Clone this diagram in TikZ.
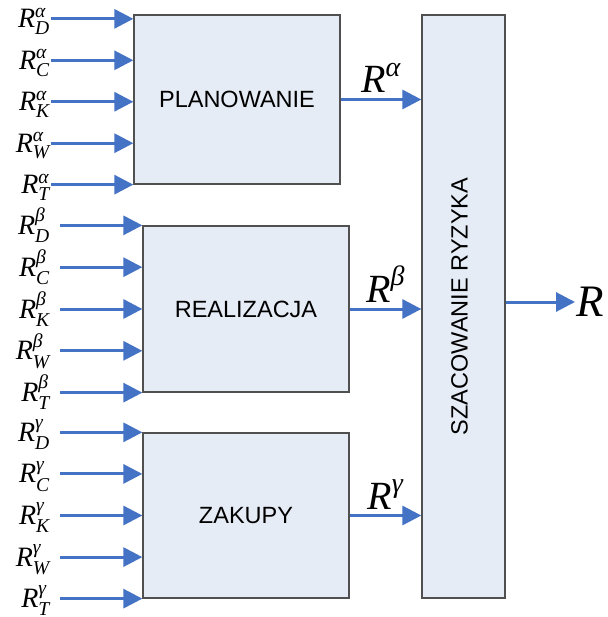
\documentclass[tikz,border=0pt]{standalone}
\usepackage{amsmath}
\usepackage{fontspec}
\setmainfont{Liberation Serif}
\newfontfamily\arialfont{Liberation Sans}
\usepackage{tikz}
\usetikzlibrary{arrows.meta, calc}
\definecolor{bfill}{HTML}{E6ECF6}
\definecolor{bline}{HTML}{505050}
\definecolor{ablue}{HTML}{4472C4}
\newcommand{\rlab}[2]{$\textit{R}^{\textit{#1}}_{\textit{#2}}$}
\tikzset{
  blok/.style={draw=bline, fill=bfill, line width=1.3pt, minimum width=206pt,
               font=\arialfont\fontsize{23.5}{28}\selectfont, inner sep=0pt},
  arr/.style={-{Triangle[length=19pt, width=19pt]}, line width=3pt, ablue},
  inlbl/.style={anchor=base east, inner sep=0pt, font=\fontsize{28}{32}\selectfont},
  outlbl/.style={above=5pt, inner sep=0pt, text=black, font=\fontsize{40}{44}\selectfont},
}

\begin{document}
\begin{tikzpicture}[x=1pt, y=-1pt]
  \useasboundingbox (0,0) rectangle (607,617);

  \node[blok, minimum height=169pt] (plan) at (237,99.5) {PLANOWANIE};
  \node[blok, minimum height=166pt] (real) at (246,309) {REALIZACJA};
  \node[blok, minimum height=165pt] (zak) at (246,515.5) {ZAKUPY};
  \node[blok, minimum width=83pt, minimum height=583pt] (szac) at (463.5,306.5) {};
  \node[rotate=90, font=\arialfont\fontsize{23.5}{28}\selectfont] (szacT)
    at ($(szac.center)+(-4,0)$) {SZACOWANIE RYZYKA};

  % wejscia
  \foreach \b/\g/\gap/\off in {plan/α/1pt/4.5, real/β/10pt/0, zak/γ/10pt/0} {
    \coordinate (\b-top) at ($(\b.north west)+(0,\off)$);
    \foreach \s [count=\i from 0] in {D,C,K,W,T} {
      \coordinate (\b-\s) at ($(\b-top)!\i/4!(\b.south west)$);
      \node[inlbl] (\b-l\s) at ($(\b-\s -| 50,0)+(0,9)$) {\rlab{\g}{\s}};
      \draw[arr, shorten <=\gap] (\b-l\s.east |- \b-\s) -- (\b-\s);
    }
  }

  % wyjscia
  \foreach \b/\g in {plan/α, real/β, zak/γ} {
    \draw[arr] (\b.east) -- (\b.east -| szac.west)
      node[midway, outlbl] {$\textit{R}^{\textit{\g}}$};
  }

  \node[anchor=west, inner sep=1pt, font=\fontsize{45}{50}\selectfont] (R)
    at (575,302) {\textit{R}};
  \draw[arr] (szac.east |- R.west) -- (R.west);
\end{tikzpicture}
\end{document}
